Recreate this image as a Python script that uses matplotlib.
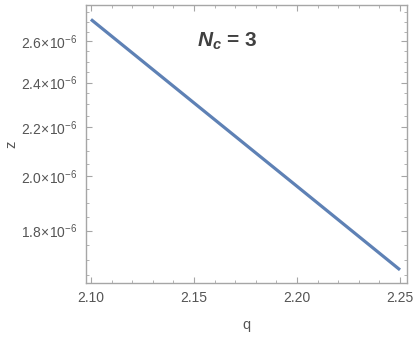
import numpy as np
import matplotlib
matplotlib.use("Agg")
import matplotlib.pyplot as plt
from matplotlib.ticker import FixedLocator, FuncFormatter, MultipleLocator

# values (log-scaled z vs q)
q_vals = [2.10, 2.15, 2.20, 2.25]
z_vals = [2.713e-6, 2.307e-6, 1.962e-6, 1.668e-6]

x_major = [2.10, 2.15, 2.20, 2.25]
y_major = [1.8e-6, 2.0e-6, 2.2e-6, 2.4e-6, 2.6e-6]
y_minor = [v * 1e-6 for v in np.arange(1.65, 2.80, 0.05)]

plt.rcParams['font.family'] = ['Liberation Sans', 'DejaVu Sans']
plt.rcParams['mathtext.fontset'] = 'custom'
plt.rcParams['mathtext.rm'] = 'Liberation Sans'
plt.rcParams['mathtext.it'] = 'Liberation Sans:italic'
plt.rcParams['mathtext.bf'] = 'Liberation Sans:bold'
plt.rcParams['mathtext.bfit'] = 'Liberation Sans:italic:bold'

frame_col = '#a6a6a6'
text_col = '#555555'

fig = plt.figure(figsize=(4.15, 3.46), dpi=100)
ax = fig.add_axes([86/415, 63/346, 321/415, 278/346])

ax.plot(q_vals, z_vals, color='#5e81b5', lw=2.3, solid_capstyle='butt')
ax.set_yscale('log')
ax.set_xlim(2.0976, 2.2534)
ax.set_ylim(1.626e-6, 2.790e-6)

ax.xaxis.set_major_locator(FixedLocator(x_major))
ax.xaxis.set_minor_locator(MultipleLocator(0.01))
ax.xaxis.set_major_formatter(FuncFormatter(lambda v, p: "%.2f" % v))
ax.yaxis.set_major_locator(FixedLocator(y_major))
ax.yaxis.set_minor_locator(FixedLocator(y_minor))
ax.yaxis.set_minor_formatter(FuncFormatter(lambda v, p: ""))
ax.yaxis.set_major_formatter(FuncFormatter(
    lambda v, p: r"$%.1f\!\times\!10^{-6}$" % (v * 1e6)))

for s in ax.spines.values():
    s.set_color(frame_col)
    s.set_linewidth(1.0)
ax.tick_params(which='both', direction='in', top=True, right=True,
               color=frame_col, labelcolor=text_col, labelsize=10)
ax.tick_params(which='major', length=4, width=0.8, pad=6)
ax.tick_params(which='minor', length=2.2, width=0.6)

ax.set_xlabel("q", color=text_col, fontsize=10.5, labelpad=9)
ax.set_ylabel("z", color=text_col, fontsize=10.5, labelpad=2)

ax.text(0.345, 0.87, r"$\mathbfit{N_c}$ = 3", transform=ax.transAxes,
        fontsize=15, fontweight='bold', color='#404040',
        ha='left', va='center')

fig.savefig("out.png", dpi=100)
